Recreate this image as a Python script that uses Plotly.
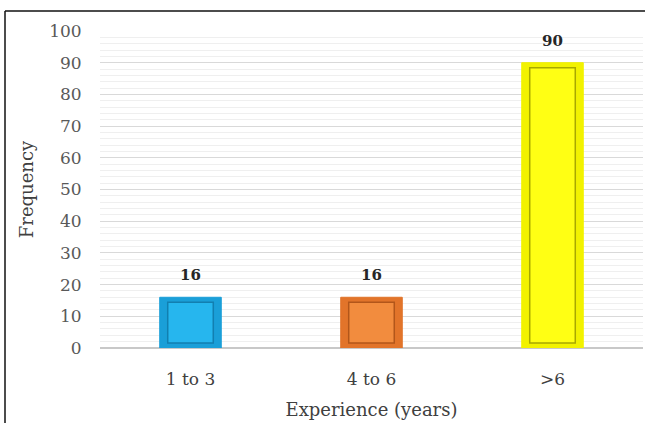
import plotly.graph_objects as go

# Years of experience vs. number of respondents
categories = ["1 to 3", "4 to 6", ">6"]
frequency = [16, 16, 90]

# Bevelled bar styling: rim colour, face colour, inner outline colour
rim_colors = ["#1A9FD8", "#E2742A", "#F2F200"]
face_colors = ["#26B6EE", "#F28C3E", "#FFFF14"]
edge_colors = ["#127FB0", "#B2561A", "#A8A800"]

bar_width = 0.34
inset = 1.6  # bevel thickness in data units
serif = "DejaVu Serif"

fig = go.Figure()

# outer rim of each bar
fig.add_trace(go.Bar(
    x=categories, y=frequency, width=bar_width,
    marker=dict(color=rim_colors, line=dict(color=rim_colors, width=1)),
    hoverinfo="skip", showlegend=False,
))

# raised inner face
fig.add_trace(go.Bar(
    x=categories, y=[v - 2 * inset for v in frequency], base=[inset] * len(frequency),
    width=bar_width * 0.74,
    marker=dict(color=face_colors, line=dict(color=edge_colors, width=1.5)),
    hoverinfo="skip", showlegend=False,
))

# value labels above the bars
annotations = [
    dict(x=c, y=v, text=f"<b>{v}</b>", showarrow=False, yanchor="bottom", yshift=11,
         font=dict(family=serif, size=15, color="#262626"))
    for c, v in zip(categories, frequency)
]

fig.update_layout(
    width=645, height=423,
    margin=dict(l=100, r=2, t=31, b=75),
    barmode="overlay",
    plot_bgcolor="white", paper_bgcolor="white",
    font=dict(family=serif, color="#595959"),
    annotations=annotations,
    xaxis=dict(
        tickfont=dict(size=17, color="#404040"),
        title=dict(text="Experience (years)", font=dict(size=18, color="#404040"), standoff=14),
        showline=False, ticks="outside", ticklen=16, tickcolor="rgba(0,0,0,0)",
    ),
    yaxis=dict(
        range=[0, 100], dtick=10,
        tickfont=dict(size=17, color="#595959"),
        title=dict(text="Frequency", font=dict(size=18, color="#404040"), standoff=10),
        showgrid=True, gridcolor="#d9d9d9", gridwidth=1,
        minor=dict(dtick=2, showgrid=True, gridcolor="#efefef", gridwidth=1),
        zeroline=True, zerolinecolor="#c8c8c8", zerolinewidth=1.5,
        ticks="outside", ticklen=14, tickcolor="rgba(0,0,0,0)",
    ),
    shapes=[
        # figure frame (top and left edges)
        dict(type="line", xref="paper", yref="paper",
             x0=(5 - 100) / 543, x1=1.01, y0=(348 - 11) / 317, y1=(348 - 11) / 317,
             line=dict(color="#111111", width=1.5)),
        dict(type="line", xref="paper", yref="paper",
             x0=(5 - 100) / 543, x1=(5 - 100) / 543, y0=(348 - 11) / 317, y1=-0.3,
             line=dict(color="#111111", width=1.5)),
    ],
)

fig.write_html("out.html")
